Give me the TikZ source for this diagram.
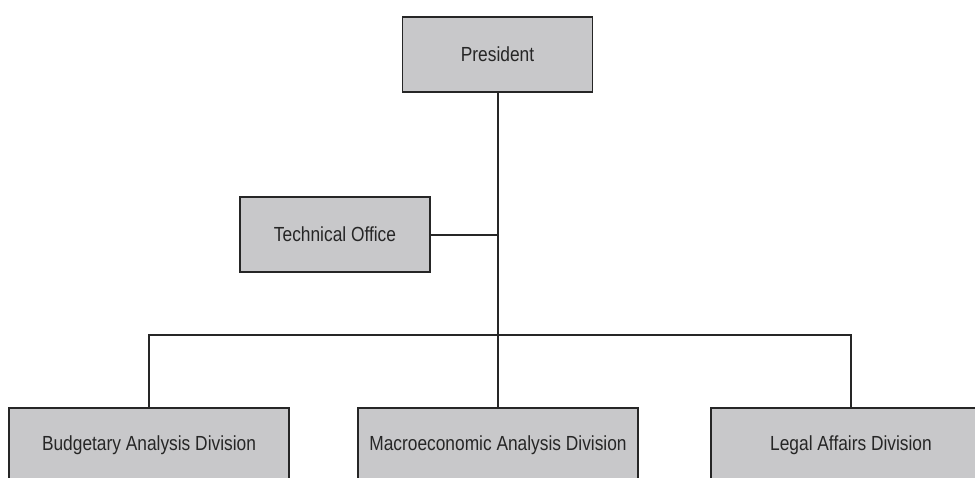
\documentclass[tikz,border=0pt]{standalone}
\usepackage{fontspec}
\setmainfont[FakeStretch=0.85]{Liberation Sans}
\usetikzlibrary{positioning}
\definecolor{boxgray}{HTML}{C8C8CA}
\definecolor{inkgray}{HTML}{262626}

\begin{document}
\begin{tikzpicture}[x=1pt,y=-1pt,line width=2pt,draw=inkgray,
	org node/.style={rectangle,draw=inkgray,line width=1.4pt,fill=boxgray,text=inkgray,
		font=\fontsize{20.4}{24}\selectfont,minimum height=75pt,inner sep=0pt}]
	
	\clip (0,0) rectangle (975,477);
	
	\node[org node,minimum width=190pt] (pres) at (497.5,54.5) {President};
	\node[org node,minimum width=190pt] (tech) at (335,234.5) {Technical Office};
	\node[org node,minimum width=280pt] (budget) at (149,445.5) {Budgetary Analysis Division};
	\node[org node,minimum width=280pt] (macro) at (498,445.5) {Macroeconomic Analysis Division};
	\node[org node,minimum width=280pt] (legal) at (851,445.5) {Legal Affairs Division};
	\coordinate (bus) at (498,335);
	
	\draw[inkgray] (pres.south -| bus) -- (macro.north -| bus);
	\draw[inkgray] (tech.east) -- (tech.east -| bus);
	\draw[inkgray] (budget.north) |- (bus) -| (legal.north);
\end{tikzpicture}
\end{document}
